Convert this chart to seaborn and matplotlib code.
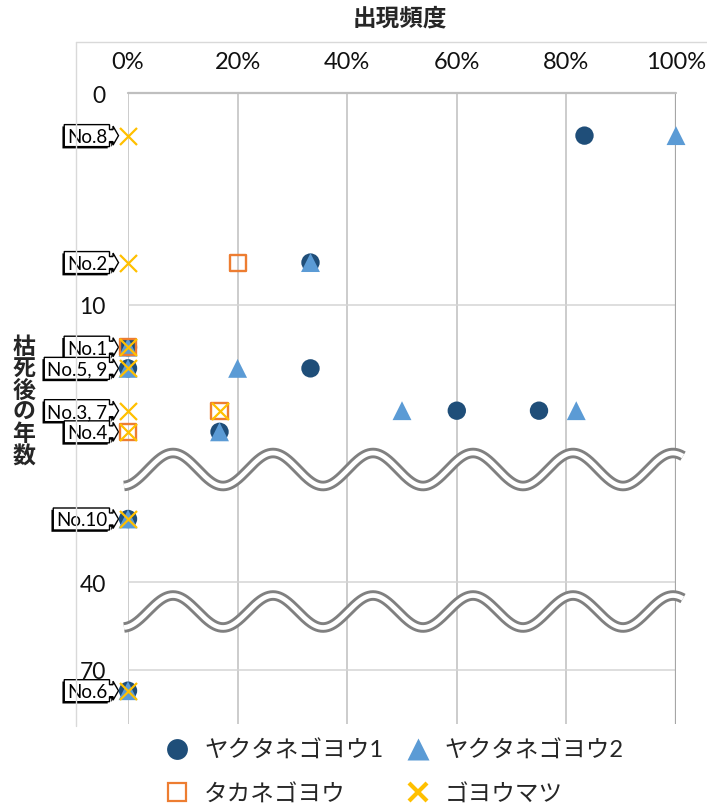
import numpy as np
import pandas as pd
import matplotlib
matplotlib.use("Agg")
import matplotlib.pyplot as plt
import matplotlib.transforms as mtransforms
import matplotlib.patheffects as pe
from matplotlib.lines import Line2D
from matplotlib.patches import Polygon
import seaborn as sns

# ---- data (frequency as fraction, years after death) ----
species = ["ヤクタネゴヨウ1", "ヤクタネゴヨウ2", "タカネゴヨウ", "ゴヨウマツ"]

yaku1_freq = [0.833, 0.333, 0.0, 0.0, 0.333, 0.60, 0.75, 0.167, 0.0, 0.0]
yaku1_years = [2, 8, 12, 13, 13, 15, 15, 16, 36, 72]
yaku2_freq = [1.0, 0.333, 0.0, 0.0, 0.20, 0.50, 0.818, 0.167, 0.0, 0.0]
yaku2_years = [2, 8, 12, 13, 13, 15, 15, 16, 36, 72]
takane_freq = [0.20, 0.0, 0.167, 0.0]
takane_years = [8, 12, 15, 16]
goyo_freq = [0.0, 0.0, 0.0, 0.0, 0.0, 0.167, 0.0, 0.0, 0.0]
goyo_years = [2, 8, 12, 13, 15, 15, 16, 36, 72]

tree_labels = ["No.8", "No.2", "No.1", "No.5, 9", "No.3, 7", "No.4", "No.10", "No.6"]
tree_years = [2, 8, 12, 13, 15, 16, 36, 72]

x_ticks = [0, 0.2, 0.4, 0.6, 0.8, 1.0]
x_tick_labels = ["0%", "20%", "40%", "60%", "80%", "100%"]
y_ticks = [0, 10, 40, 70]

# broken y axis: piecewise scale (years -> drawing depth)
SCALE_YEARS = [-100, 0, 17, 30, 36, 40, 42, 68, 70, 72, 75, 1000]
SCALE_DEPTH = [94.3 - 2116, 94.3, 454, 480, 520, 583.3, 600, 640, 670.7, 691.7, 725, 725 + 10000]


def fwd(v):
    return np.interp(v, SCALE_YEARS, SCALE_DEPTH)


def inv(v):
    return np.interp(v, SCALE_DEPTH, SCALE_YEARS)


C_YAKU1 = "#1F4E79"
C_YAKU2 = "#5B9BD5"
C_TAKANE = "#ED7D31"
C_GOYO = "#FFC000"

sns.set_theme(style="white")
plt.rcParams["font.family"] = ["Lato", "Noto Sans CJK JP", "DejaVu Sans"]

W, H = 707, 804
fig = plt.figure(figsize=(W / 100, H / 100), dpi=100)
ax = fig.add_axes([128 / W, 1 - 725 / H, (676 - 128) / W, (725 - 94.3) / H])

ax.set_yscale("function", functions=(fwd, inv))
ax.set_xlim(0, 1)
ax.set_ylim(75, 0)

series = [
    (yaku1_freq, yaku1_years, "o", 175, C_YAKU1),
    (yaku2_freq, yaku2_years, "^", 185, C_YAKU2),
    (takane_freq, takane_years, "s", 135, C_TAKANE),
    (goyo_freq, goyo_years, "x", 150, C_GOYO),
]
for i, (fx, yy, mk, size, col) in enumerate(series):
    df = pd.DataFrame({"freq": fx, "years": yy})
    if mk == "s":
        sns.scatterplot(data=df, x="freq", y="years", marker=mk, s=size, ax=ax,
                        legend=False, clip_on=False, zorder=6 + i)
        coll = ax.collections[-1]
        coll.set_facecolor("none")
        coll.set_edgecolor(col)
        coll.set_linewidth(1.7)
    elif mk == "x":
        sns.scatterplot(data=df, x="freq", y="years", marker=mk, s=size, color=col,
                        linewidth=1.6, ax=ax, legend=False, clip_on=False, zorder=6 + i)
    else:
        sns.scatterplot(data=df, x="freq", y="years", marker=mk, s=size, color=col,
                        edgecolor="none", linewidth=0, ax=ax, legend=False,
                        clip_on=False, zorder=6 + i)

for s in ax.spines.values():
    s.set_visible(False)
ax.set_xticks(x_ticks)
ax.set_xticklabels(x_tick_labels)
ax.set_yticks(y_ticks)
ax.set_yticklabels([str(v) for v in y_ticks])
ax.xaxis.tick_top()
ax.tick_params(axis="x", length=0, pad=15, labelsize=17, colors="#111111")
ax.tick_params(axis="y", length=0, pad=16, labelsize=16.5, colors="#111111")
ax.set_xlabel("")
ax.set_ylabel("")
ax.xaxis.grid(True, color="#bfbfbf", lw=1.1)
ax.yaxis.grid(True, color="#d4d4d4", lw=1.1)
ax.axvline(1.0, color="#a6a6a6", lw=1.6, zorder=2)
ax.axhline(0, color="#bfbfbf", lw=1.6, zorder=2, clip_on=False)
ax.set_axisbelow(True)

# tree callouts (right arrow callouts), body sized to the text
renderer = fig.canvas.get_renderer()
for lab, yr in zip(tree_labels, tree_years):
    t = ax.annotate(lab, xy=(0, yr), xytext=(-20.5, -1), textcoords="offset pixels",
                    ha="right", va="center", fontsize=13.5, color="black",
                    annotation_clip=False, zorder=4)
    w = t.get_window_extent(renderer).width
    left = -20.5 - w - 3
    shape = np.array([(left, 11), (-18.5, 11), (-18.5, 6), (-15, 6), (-15, 9.5),
                      (-9.5, 0), (-15, -9.5), (-15, -6), (-18.5, -6), (-18.5, -11),
                      (left, -11)]) / 100.0
    tr = fig.dpi_scale_trans + mtransforms.ScaledTranslation(0, yr, ax.transData)
    poly = Polygon(shape, closed=True, transform=tr, fc="white", ec="black",
                   lw=1.0, clip_on=False, zorder=3)
    poly.set_path_effects([pe.SimplePatchShadow(offset=(-1.3, -1.3), shadow_rgbFace="black",
                                                alpha=1.0), pe.Normal()])
    ax.add_patch(poly)

# overlay in pixel coordinates for the break marks and frame
ov = fig.add_axes([0, 0, 1, 1], zorder=5)
ov.set_xlim(0, W)
ov.set_ylim(H, 0)
ov.axis("off")
ov.plot([76, 76], [43, 727], color="#d9d9d9", lw=1)
ov.plot([76, W], [43, 43], color="#d9d9d9", lw=1)
xs = np.linspace(124, 683, 800)
for c, amp in [(470.5, 16.5), (612.5, 16)]:
    yw = c - amp * np.cos(2 * np.pi * (xs - 173) / 100)
    ov.plot(xs, yw, color="#808080", lw=7.6, solid_capstyle="butt")
    ov.plot(xs, yw, color="white", lw=3.4, solid_capstyle="butt")

fig.text(400 / W, 1 - 18 / H, "出現頻度", ha="center", va="center",
         fontsize=17, fontweight="bold")
fig.text(24 / W, 1 - 402 / H, "\n".join("枯死後の年数"), ha="center", va="center",
         fontsize=16.5, fontweight="bold", linespacing=1.02)

handles = [
    Line2D([], [], ls="none", marker="o", ms=15, mfc=C_YAKU1, mec="none"),
    Line2D([], [], ls="none", marker="s", ms=13, mfc="none", mec=C_TAKANE, mew=1.6),
    Line2D([], [], ls="none", marker="^", ms=16, mfc=C_YAKU2, mec="none"),
    Line2D([], [], ls="none", marker="x", ms=13, mec=C_GOYO, mew=3),
]
labels = [species[0], species[2], species[1], species[3]]
fig.legend(handles, labels, ncol=2, loc="upper left",
           bbox_to_anchor=(164 / W, 1 - 741 / H), frameon=False, fontsize=17,
           handlelength=1.1, handletextpad=0.6, columnspacing=0.9, labelspacing=0.95,
           borderaxespad=0, borderpad=0)

fig.savefig("out.png", dpi=100)
